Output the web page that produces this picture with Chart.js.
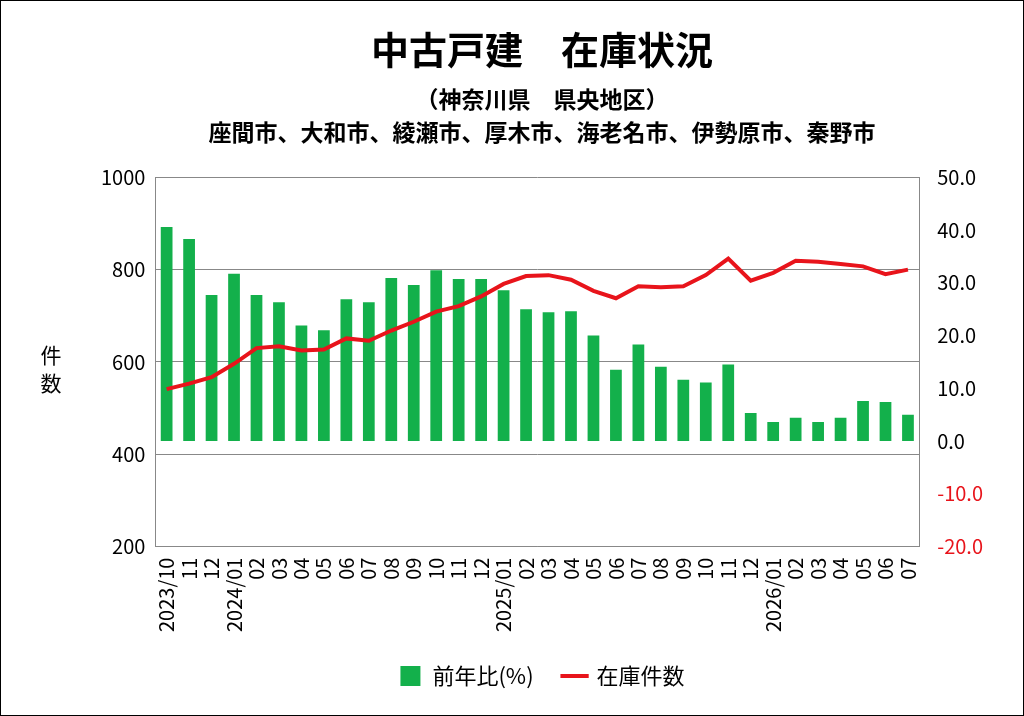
<!DOCTYPE html>
<html lang="ja">
<head>
<meta charset="UTF-8">
<title>中古戸建 在庫状況</title>
<script src="https://cdn.jsdelivr.net/npm/chart.js"></script>
<style>
    html, body { margin: 0; padding: 0; background: #fff; }
    .wrap { width: 1022px; height: 714px; border: 1px solid #000; }
</style>
</head>
<body>
<div class="wrap"><canvas id="c" width="1022" height="714"></canvas></div>
<script>
const labels = ['2023/10','11','12','2024/01','02','03','04','05','06','07','08','09','10','11','12',
    '2025/01','02','03','04','05','06','07','08','09','10','11','12',
    '2026/01','02','03','04','05','06','07'];
const yoyPct = [40.6,38.3,27.7,31.7,27.7,26.3,21.9,21.0,26.9,26.3,30.9,29.6,32.4,30.7,30.7,
    28.6,25.0,24.4,24.6,20.0,13.5,18.3,14.1,11.6,11.1,14.5,5.3,3.6,4.4,3.6,4.4,7.6,7.4,5.0];
const stock = [541,553,567,596,630,634,625,627,651,646,668,687,709,721,742,
    769,786,788,778,754,738,764,762,764,788,824,776,793,819,817,812,807,790,800];

const FONT = "'Noto Sans CJK JP', sans-serif";

// 縦書きの軸タイトル「件数」
const yTitle = {
    id: 'yTitle',
    afterDraw(chart) {
        const ctx = chart.ctx;
        ctx.save();
        ctx.font = '21px ' + FONT;
        ctx.fillStyle = '#000';
        ctx.textAlign = 'center';
        ctx.fillText('件', 50, 354);
        ctx.fillText('数', 50, 382);
        ctx.restore();
    }
};

new Chart(document.getElementById('c'), {
    data: {
        labels: labels,
        datasets: [
            {
                type: 'line', label: '在庫件数', data: stock, yAxisID: 'y',
                borderColor: '#e8141b', backgroundColor: '#e8141b', borderWidth: 4,
                pointRadius: 0, tension: 0, order: 0, pointStyle: 'line'
            },
            {
                type: 'bar', label: '前年比(%)', data: yoyPct, yAxisID: 'y1',
                backgroundColor: '#13b04b', categoryPercentage: 0.95, barPercentage: 0.55,
                order: 1, pointStyle: 'rect'
            }
        ]
    },
    options: {
        responsive: false,
        animation: false,
        layout: { padding: { left: 90, right: 30, top: 18, bottom: 18 } },
        plugins: {
            title: {
                display: true, text: '中古戸建　在庫状況', color: '#000',
                font: { family: FONT, size: 38, weight: 'bold' }, padding: { top: 8, bottom: 10 }
            },
            subtitle: {
                display: true, text: ['（神奈川県　県央地区）', '座間市、大和市、綾瀬市、厚木市、海老名市、伊勢原市、秦野市'],
                color: '#000', font: { family: FONT, size: 23, weight: 'bold', lineHeight: 1.45 }, padding: { bottom: 28 }
            },
            legend: {
                position: 'bottom', reverse: true,
                labels: {
                    usePointStyle: true, color: '#000', font: { family: FONT, size: 22 },
                    boxWidth: 55, boxHeight: 20, padding: 30
                }
            },
            tooltip: { enabled: false }
        },
        scales: {
            x: {
                grid: { display: false },
                border: { color: '#888' },
                ticks: {
                    color: '#000', font: { family: FONT, size: 20 },
                    minRotation: 90, maxRotation: 90, autoSkip: false
                }
            },
            y: {
                position: 'left', min: 200, max: 1000,
                ticks: { stepSize: 200, color: '#000', font: { family: FONT, size: 20 }, padding: 10,
                    callback: v => String(v) },
                grid: { color: '#888', drawTicks: false },
                border: { color: '#888' }
            },
            y1: {
                position: 'right', min: -20, max: 50,
                ticks: {
                    stepSize: 10, font: { family: FONT, size: 20 }, padding: 10,
                    color: c => c.tick.value < 0 ? '#e8141b' : '#000',
                    callback: v => v.toFixed(1)
                },
                grid: { display: false },
                border: { color: '#888' }
            }
        }
    },
    plugins: [yTitle]
});
</script>
</body>
</html>
